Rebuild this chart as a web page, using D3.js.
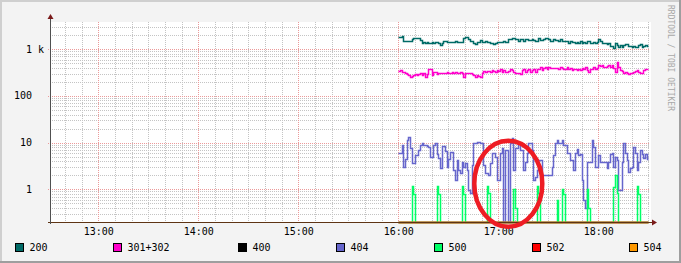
<!DOCTYPE html>
<html>
<head>
<meta charset="utf-8">
<script src="https://cdn.jsdelivr.net/npm/d3@7"></script>
<style>
body { margin: 0; background: #f3f3f3; }
svg { display: block; }
text { font-family: "DejaVu Sans Mono", monospace; }
</style>
</head>
<body>
<svg id="chart"></svg>
<script>
// one sample per minute, first one at 16:00
var firstSample = new Date(2024, 0, 1, 16, 0)
var hourTicks = ["13:00", "14:00", "15:00", "16:00", "17:00", "18:00"]
var yTickValues = [1, 10, 100, 1000]
var yTickNumbers = ["1", "10", "100", "1"]
var yTickSuffix = ["", "", "", "k"]
var seriesNames = ["200", "301+302", "400", "404", "500", "502", "504"]
var seriesColors = ["#006a66", "#ff00cc", "#000000", "#6666cc", "#00ff66", "#ff0000", "#ff9900"]

var s200 = [1850,1850,1920,1520,1520,1520,1520,1520,1630,1710,1710,1710,1710,1570,1380,1450,1340,1430,1380,1380,
	1430,1380,1450,1450,1340,1230,1380,1520,1520,1450,1450,1450,1450,1450,1520,1430,1430,1430,1430,1710,
	1800,1800,1650,1520,1520,1340,1290,1430,1450,1570,1450,1450,1520,1400,1450,1380,1380,1290,1380,1400,
	1400,1450,1450,1520,1450,1450,1630,1630,1710,1710,1650,1650,1520,1630,1630,1520,1680,1630,1570,1570,
	1680,1570,1520,1520,1710,1570,1570,1630,1710,1710,1630,1520,1520,1630,1570,1570,1520,1630,1520,1520,
	1520,1520,1380,1520,1450,1450,1340,1450,1380,1520,1340,1450,1380,1520,1520,1380,1380,1450,1380,1450,
	1630,1520,1340,1380,1380,1290,1340,1170,1170,1040,1340,1230,1130,1230,1130,1230,1290,1290,1170,1170,
	1130,1170,1130,1130,1230,1290,1100,1170,1230,1170]

var s301 = [347,359,330,330,304,294,280,258,271,280,294,280,290,304,280,304,250,294,371,371,
	280,325,320,294,304,304,304,314,304,330,304,314,320,314,330,304,314,330,304,258,
	314,314,314,314,294,280,258,280,267,250,304,347,330,347,341,330,359,347,330,359,
	347,371,330,359,330,330,347,371,359,330,314,304,314,294,359,371,330,359,371,330,
	359,371,330,371,371,409,359,389,409,371,423,389,402,389,389,402,371,409,389,371,
	371,409,371,389,359,371,371,359,371,359,389,371,423,359,330,371,371,409,371,389,
	459,437,459,423,409,437,459,423,459,389,330,523,423,359,347,314,330,304,294,304,
	314,330,347,359,330,304,314,359,371,371]

var s400 = [0,0,0,0,0,0,0,0,0,0,0,0,0,0,0,0,0,0,0,0,0,0,0,0,0,0,0,0,0,0,0,0,0,0,0,0,0,0,0,0,
	0,0,0,0,0,0,0,0,0,0,0,0,0,0,0,0,0,0,0,0,0,0,0,0,0,0,0,0,0,0,0,0,0,0,0,0,0,0,0,0,
	0,0,0,0,0,0,0,0,0,0,0,0,0,0,0,0,0,0,0,0,0,0,0,0,0,0,0,0,0,0,0,0,0,0,0,0,0,0,0,0,
	0,0,0,0,0,0,0,0,0,0,0,0,0,0,0,0,0,0,0,0,0,0,0,0,0,0,0,0,0,0]

var s404 = [5.9,5.9,8.9,3.05,4.4,11.4,13,7.5,3.6,3.7,5.4,5.4,6.9,8.9,9.7,8.9,8.9,8.5,8.2,5,
	5,8.9,10,5.7,4.6,2.8,8.5,8.5,6.7,2.95,4.4,6.4,6.4,2.6,1.58,4.2,2.6,2.2,3.9,3.05,
	3.6,2.6,0.97,0.82,3.3,9.7,9.7,10.5,10.5,9.7,9.7,3.3,2.2,2.2,2,3.6,5.9,5.9,5,1.58,
	1.58,5.9,7.5,0,6.9,6.9,0,9.7,12.4,2.6,7.5,7.5,9.7,6.9,6.9,2.6,3.9,5.9,9.7,9.7,
	6.9,1.58,1.86,2.6,4.2,4.2,2,2,2,2,2,2,3.05,5.4,9.7,11.4,9.7,9.7,11.4,8.9,
	8.9,5.9,6.1,4.2,4.2,2.6,5.9,7.2,5.4,5.7,1.58,0.59,0.39,3.9,3.9,3.9,11.4,8.2,3.05,3.05,
	5.4,3.9,3.9,3.9,3.9,2.8,3.9,5.7,5.9,3.05,5,4.2,0.97,0.97,3.9,10,5.9,4.2,2.38,2.8,
	3.05,8.2,5.9,2.6,3.9,6.9,5.7,4.6,5.7,4.4]

var s500 = [0,0,0,0,0,0,0,0,1.18,0.79,0,0,0,0,0,0,0,0,0,0,
	0,0,0,1.18,0.79,0,0,0,0,0,0,0,0,0,0,0,0,0,1.18,0.79,
	0,0,0,0,0,0,0,0,0,0,0,0,0,1.18,0.82,0,0,0,0,0,
	0,0,0,0,0,0,0,0,0,1,0.39,0,0,0,0,0,0,0,0,0,
	0,0,0,1.18,0.82,0,0,0,0,0,0,0,0,0,0,0.59,0,0,1,0.79,
	0,0,0,0,0,0,0,0,0,0,0,0,0,1,0.39,0,0,0,0,0,
	0,0,0,0,0,0,0,0,0,1.1,2,0.82,0,0,0,0,0,0,0,0,
	0,0,0,1.18,0.79,0,0,0,0,0]

var s502 = s400.slice()
var s504 = s400.slice()

var allSeries = [s200, s301, s400, s404, s500, s502, s504]

var dimensions = {
	width: 681,
	height: 263,
	margin: { top: 22, bottom: 41, left: 50, right: 31 }
}
var plotRight = dimensions.width - dimensions.margin.right
var plotBottom = dimensions.height - dimensions.margin.bottom

var svg = d3.select("#chart")
	.attr("width", dimensions.width)
	.attr("height", dimensions.height)

// background and 3d frame
svg.append("rect").attr("width", dimensions.width).attr("height", dimensions.height).attr("fill", "#f3f3f3")
svg.append("path").attr("d", "M0,0H681V2H2V263H0Z").attr("fill", "#cfcfcf")
svg.append("path").attr("d", "M681,0V263H0V261H679V0Z").attr("fill", "#9e9e9e")

var xScale = d3.scaleTime()
	.domain([new Date(2024, 0, 1, 12, 31), new Date(2024, 0, 1, 18, 31)])
	.range([dimensions.margin.left, plotRight])

var yScale = d3.scaleLog()
	.domain([0.2, 3820])
	.range([plotBottom, dimensions.margin.top])
	.clamp(true)

svg.append("rect")
	.attr("x", dimensions.margin.left).attr("y", dimensions.margin.top)
	.attr("width", plotRight - dimensions.margin.left + 1)
	.attr("height", plotBottom - dimensions.margin.top)
	.attr("fill", "#ffffff")

var grid = svg.append("g").attr("shape-rendering", "crispEdges").attr("stroke-dasharray", "1,1")

// minor horizontal grid: 2..9 in every decade
var minorY = []
for (var d = 0.1; d <= 1000; d *= 10) {
	for (var m = 2; m <= 9; m++) {
		var v = d * m
		if (v > 0.2 && v < 3820) minorY.push(v)
	}
}
grid.selectAll(".minory").data(minorY).enter().append("line")
	.attr("x1", dimensions.margin.left).attr("x2", plotRight)
	.attr("y1", d => Math.round(yScale(d)) + 0.5).attr("y2", d => Math.round(yScale(d)) + 0.5)
	.attr("stroke", "#c4c4c4")

// minor vertical grid every 10 minutes
var minorX = xScale.ticks(d3.timeMinute.every(10))
grid.selectAll(".minorx").data(minorX).enter().append("line")
	.attr("x1", d => Math.round(xScale(d)) + 0.5).attr("x2", d => Math.round(xScale(d)) + 0.5)
	.attr("y1", dimensions.margin.top).attr("y2", plotBottom)
	.attr("stroke", "#c4c4c4")

// major grid
grid.selectAll(".majory").data(yTickValues).enter().append("line")
	.attr("x1", dimensions.margin.left - 2).attr("x2", plotRight)
	.attr("y1", d => Math.round(yScale(d)) + 0.5).attr("y2", d => Math.round(yScale(d)) + 0.5)
	.attr("stroke", "#ec9a9a")

var hours = xScale.ticks(d3.timeHour.every(1))
grid.selectAll(".majorx").data(hours).enter().append("line")
	.attr("x1", d => Math.round(xScale(d)) + 0.5).attr("x2", d => Math.round(xScale(d)) + 0.5)
	.attr("y1", dimensions.margin.top).attr("y2", plotBottom + 2)
	.attr("stroke", "#ec9a9a")

// series lines (step per sample)
var line = d3.line()
	.x(d => Math.round(xScale(d.t)) + 0.5)
	.y(d => Math.round(yScale(d.v)) + 0.5)
	.curve(d3.curveStepAfter)

function toPoints(values) {
	var pts = values.map(function (v, i) {
		return { t: d3.timeMinute.offset(firstSample, i), v: v }
	})
	pts.push({ t: d3.timeMinute.offset(firstSample, values.length), v: values[values.length - 1] })
	return pts
}

allSeries.forEach(function (values, k) {
	svg.append("path")
		.datum(toPoints(values))
		.attr("d", line)
		.attr("fill", "none")
		.attr("stroke", seriesColors[k])
		.attr("stroke-width", 1.5)
})

// axes
var xAxisgen = d3.axisBottom(xScale)
	.tickValues(hours)
	.tickFormat(d3.timeFormat("%H:%M"))
	.tickSize(0)
var xAxis = svg.append("g")
	.attr("transform", "translate(0," + plotBottom + ")")
	.call(xAxisgen)
xAxis.select(".domain").remove()
xAxis.selectAll("text")
	.attr("y", 13)
	.attr("dy", 0)
	.attr("fill", "#000")
	.style("font-size", "10px")
	.style("font-family", "DejaVu Sans Mono")

svg.append("line")
	.attr("x1", dimensions.margin.left - 2).attr("x2", plotRight + 3)
	.attr("y1", plotBottom + 0.5).attr("y2", plotBottom + 0.5)
	.attr("stroke", "#5e3414")
svg.append("line")
	.attr("x1", dimensions.margin.left + 0.5).attr("x2", dimensions.margin.left + 0.5)
	.attr("y1", plotBottom + 2).attr("y2", dimensions.margin.top - 4)
	.attr("stroke", "#505050")

// arrows
svg.append("path")
	.attr("d", "M" + (dimensions.margin.left - 2.5) + "," + (dimensions.margin.top - 3) +
		"L" + (dimensions.margin.left + 0.5) + "," + (dimensions.margin.top - 8) +
		"L" + (dimensions.margin.left + 3.5) + "," + (dimensions.margin.top - 3) + "Z")
	.attr("fill", "#7a1a1a")
svg.append("path")
	.attr("d", "M" + (plotRight + 2) + "," + (plotBottom - 2.5) +
		"L" + (plotRight + 7) + "," + (plotBottom + 0.5) +
		"L" + (plotRight + 2) + "," + (plotBottom + 3.5) + "Z")
	.attr("fill", "#7a1a1a")

// y labels: number right aligned, then suffix
var ylab = svg.append("g").style("font-size", "10px").attr("fill", "#000")
ylab.selectAll(".num").data(yTickValues).enter().append("text")
	.attr("x", 32).attr("y", d => yScale(d) + 3.5)
	.attr("text-anchor", "end")
	.text((d, i) => yTickNumbers[i])
ylab.selectAll(".suf").data(yTickValues).enter().append("text")
	.attr("x", 38).attr("y", d => yScale(d) + 3.5)
	.text((d, i) => yTickSuffix[i])

// legend
var legendX = [15.5, 113.5, 238.5, 336.5, 434.5, 532.5, 629.5]
var legend = svg.append("g").attr("class", "legend")
legend.selectAll("rect").data(seriesNames).enter().append("rect")
	.attr("x", (d, i) => legendX[i]).attr("y", 243.5)
	.attr("width", 8).attr("height", 8)
	.attr("fill", (d, i) => seriesColors[i])
	.attr("stroke", "#000").attr("stroke-width", 1)
legend.selectAll("text").data(seriesNames).enter().append("text")
	.attr("x", (d, i) => legendX[i] + 14).attr("y", 251)
	.style("font-size", "10px")
	.text(d => d)

// vertical watermark
svg.append("text")
	.attr("transform", "translate(668,5) rotate(90)")
	.style("font-size", "8px")
	.attr("fill", "#a8a8a8")
	.text("RRDTOOL / TOBI OETIKER")

// hand drawn red circle
svg.append("ellipse")
	.attr("cx", 508.3).attr("cy", 183.7)
	.attr("rx", 34).attr("ry", 43)
	.attr("fill", "none")
	.attr("stroke", "#ee1c24")
	.attr("stroke-width", 4.5)
</script>
</body>
</html>
